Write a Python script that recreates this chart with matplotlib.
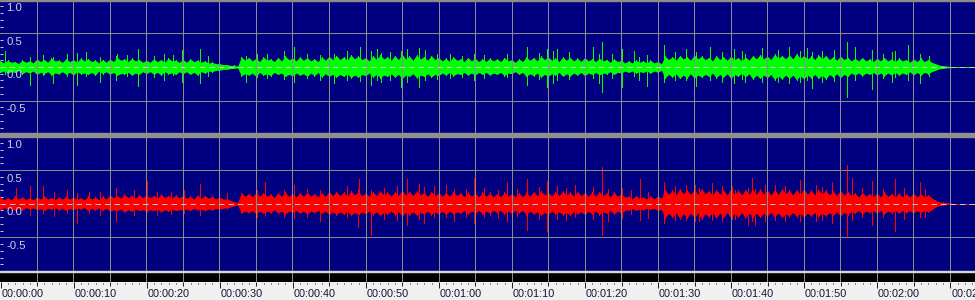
import numpy as np
import matplotlib
matplotlib.use("Agg")
import matplotlib.pyplot as plt
from matplotlib.patches import Rectangle

plt.rcParams['font.family'] = ['Liberation Sans', 'DejaVu Sans']

# ---- data (seconds / amplitude), read off the waveform view ----
# outer edge of the dense hair, one value per second (t = 0 .. 130)
green_hi = [0.09, 0.10, 0.08, 0.10, 0.09,
            0.12, 0.11, 0.13, 0.10, 0.12, 0.11, 0.13, 0.12, 0.10, 0.11,
            0.12, 0.14, 0.12, 0.13, 0.11,
            0.10, 0.12, 0.11, 0.13, 0.10,
            0.11, 0.12, 0.10, 0.09, 0.07,
            0.05, 0.035, 0.025,
            0.15, 0.14, 0.13, 0.15, 0.12, 0.14, 0.16, 0.13, 0.15, 0.14, 0.12, 0.15, 0.16,
            0.17, 0.15, 0.18, 0.16, 0.14, 0.17, 0.18, 0.15, 0.17, 0.19, 0.16, 0.18, 0.15, 0.17, 0.14, 0.13, 0.15, 0.12, 0.14, 0.13, 0.12,
            0.13, 0.12, 0.14, 0.11, 0.12,
            0.15, 0.14, 0.16, 0.15, 0.13, 0.15, 0.14, 0.13, 0.14,
            0.12, 0.13, 0.11, 0.12, 0.10,
            0.09, 0.10, 0.09, 0.10, 0.08,
            0.16, 0.15, 0.17, 0.15, 0.18, 0.16, 0.14, 0.17, 0.15, 0.16, 0.14, 0.15,
            0.17, 0.18, 0.16, 0.19, 0.17, 0.18, 0.20, 0.17, 0.16, 0.18, 0.17, 0.15, 0.16, 0.14,
            0.13, 0.14, 0.12, 0.13, 0.14, 0.12, 0.13, 0.11, 0.12, 0.13, 0.11,
            0.05, 0.02, 0.01]
green_lo = [-0.08, -0.09, -0.08, -0.10, -0.09,
            -0.11, -0.10, -0.12, -0.10, -0.11, -0.12, -0.10, -0.11, -0.12, -0.10,
            -0.11, -0.12, -0.10, -0.12, -0.11,
            -0.10, -0.11, -0.12, -0.10, -0.11,
            -0.10, -0.11, -0.12, -0.09, -0.07,
            -0.05, -0.035, -0.02,
            -0.13, -0.12, -0.14, -0.12, -0.13, -0.11, -0.14, -0.13, -0.12, -0.14, -0.13, -0.15, -0.14,
            -0.15, -0.14, -0.16, -0.15, -0.13, -0.15, -0.16, -0.14, -0.15, -0.17, -0.14, -0.16, -0.14, -0.15, -0.13, -0.12, -0.13, -0.11, -0.12, -0.12, -0.11,
            -0.12, -0.11, -0.13, -0.10, -0.11,
            -0.14, -0.13, -0.15, -0.14, -0.12, -0.14, -0.13, -0.12, -0.13,
            -0.11, -0.12, -0.10, -0.11, -0.09,
            -0.08, -0.09, -0.08, -0.09, -0.08,
            -0.16, -0.15, -0.17, -0.16, -0.17, -0.15, -0.14, -0.16, -0.15, -0.17, -0.14, -0.15,
            -0.18, -0.17, -0.16, -0.19, -0.18, -0.17, -0.19, -0.18, -0.16, -0.17, -0.18, -0.15, -0.16, -0.14,
            -0.12, -0.13, -0.11, -0.12, -0.13, -0.12, -0.12, -0.11, -0.12, -0.12, -0.10,
            -0.05, -0.02, -0.01]
red_hi = [0.10, 0.09, 0.11, 0.10, 0.09,
          0.10, 0.11, 0.09, 0.10, 0.11, 0.10, 0.09, 0.11, 0.10, 0.11,
          0.13, 0.12, 0.14, 0.12, 0.13,
          0.13, 0.12, 0.14, 0.12, 0.13,
          0.12, 0.11, 0.13, 0.12, 0.11,
          0.10, 0.07, 0.03,
          0.16, 0.15, 0.17, 0.16, 0.14, 0.16, 0.17, 0.15, 0.16, 0.17, 0.15, 0.16, 0.18,
          0.18, 0.17, 0.19, 0.18, 0.16, 0.18, 0.19, 0.17, 0.18, 0.20, 0.18, 0.19, 0.17, 0.18, 0.16, 0.17, 0.18, 0.16, 0.17, 0.16, 0.17,
          0.16, 0.15, 0.17, 0.15, 0.16,
          0.17, 0.18, 0.19, 0.17, 0.18, 0.19, 0.17, 0.18, 0.17,
          0.17, 0.18, 0.16, 0.17, 0.15,
          0.11, 0.12, 0.10, 0.11, 0.12,
          0.21, 0.20, 0.22, 0.20, 0.21, 0.22, 0.19, 0.21, 0.20, 0.22, 0.20, 0.21,
          0.21, 0.22, 0.20, 0.21, 0.22, 0.20, 0.21, 0.22, 0.20, 0.21, 0.20, 0.19, 0.20, 0.18,
          0.16, 0.17, 0.15, 0.16, 0.17, 0.15, 0.16, 0.15, 0.16, 0.15, 0.13,
          0.05, 0.02, 0.01]
red_lo = [-0.09, -0.08, -0.10, -0.09, -0.08,
          -0.09, -0.10, -0.08, -0.09, -0.10, -0.09, -0.08, -0.10, -0.09, -0.10,
          -0.11, -0.10, -0.12, -0.11, -0.10,
          -0.11, -0.10, -0.12, -0.11, -0.10,
          -0.09, -0.10, -0.09, -0.10, -0.09,
          -0.08, -0.06, -0.03,
          -0.14, -0.13, -0.15, -0.14, -0.13, -0.14, -0.15, -0.13, -0.14, -0.15, -0.13, -0.14, -0.16,
          -0.16, -0.15, -0.17, -0.16, -0.15, -0.16, -0.17, -0.15, -0.16, -0.18, -0.16, -0.17, -0.15, -0.16, -0.15, -0.16, -0.15, -0.14, -0.15, -0.14, -0.15,
          -0.14, -0.13, -0.15, -0.14, -0.13,
          -0.16, -0.15, -0.17, -0.16, -0.15, -0.16, -0.17, -0.15, -0.16,
          -0.15, -0.16, -0.14, -0.15, -0.14,
          -0.09, -0.10, -0.09, -0.08, -0.10,
          -0.21, -0.20, -0.22, -0.21, -0.20, -0.22, -0.19, -0.21, -0.20, -0.21, -0.20, -0.21,
          -0.19, -0.20, -0.18, -0.19, -0.20, -0.18, -0.19, -0.20, -0.18, -0.19, -0.18, -0.17, -0.18, -0.16,
          -0.14, -0.15, -0.13, -0.14, -0.15, -0.13, -0.14, -0.13, -0.14, -0.13, -0.12,
          -0.05, -0.02, -0.01]

# solid inner core (half width), one value per second, sits between the hair tips
green_core = [0.06, 0.07, 0.05, 0.07, 0.06,
              0.08, 0.07, 0.09, 0.07, 0.08, 0.07, 0.09, 0.08, 0.06, 0.07,
              0.08, 0.10, 0.08, 0.09, 0.07,
              0.07, 0.08, 0.07, 0.09, 0.07,
              0.07, 0.08, 0.07, 0.06, 0.05,
              0.035, 0.025, 0.015,
              0.10, 0.09, 0.08, 0.10, 0.08, 0.09, 0.11, 0.09, 0.10, 0.09, 0.08, 0.10, 0.11,
              0.11, 0.10, 0.12, 0.11, 0.09, 0.11, 0.12, 0.10, 0.11, 0.12, 0.10, 0.12, 0.10, 0.11, 0.09, 0.08, 0.10, 0.08, 0.09, 0.08, 0.08,
              0.09, 0.08, 0.09, 0.07, 0.08,
              0.10, 0.09, 0.11, 0.10, 0.08, 0.10, 0.09, 0.08, 0.09,
              0.08, 0.09, 0.07, 0.08, 0.06,
              0.06, 0.07, 0.06, 0.06, 0.05,
              0.11, 0.10, 0.12, 0.10, 0.12, 0.11, 0.09, 0.11, 0.10, 0.11, 0.09, 0.10,
              0.12, 0.12, 0.11, 0.13, 0.12, 0.12, 0.13, 0.12, 0.11, 0.12, 0.11, 0.10, 0.11, 0.09,
              0.09, 0.09, 0.08, 0.09, 0.09, 0.08, 0.09, 0.07, 0.08, 0.08, 0.07,
              0.03, 0.015, 0.005]
red_core = [0.06, 0.06, 0.07, 0.06, 0.06,
            0.07, 0.07, 0.06, 0.07, 0.07, 0.06, 0.06, 0.07, 0.06, 0.07,
            0.09, 0.08, 0.09, 0.08, 0.09,
            0.09, 0.08, 0.09, 0.08, 0.09,
            0.08, 0.07, 0.08, 0.08, 0.07,
            0.07, 0.05, 0.02,
            0.11, 0.10, 0.11, 0.11, 0.09, 0.11, 0.11, 0.10, 0.11, 0.11, 0.10, 0.11, 0.12,
            0.12, 0.11, 0.13, 0.12, 0.11, 0.12, 0.13, 0.11, 0.12, 0.13, 0.12, 0.13, 0.11, 0.12, 0.11, 0.11, 0.12, 0.10, 0.11, 0.10, 0.11,
            0.10, 0.10, 0.11, 0.10, 0.10,
            0.11, 0.12, 0.13, 0.11, 0.12, 0.13, 0.11, 0.12, 0.11,
            0.11, 0.12, 0.10, 0.11, 0.10,
            0.07, 0.08, 0.07, 0.07, 0.08,
            0.14, 0.13, 0.15, 0.14, 0.14, 0.15, 0.13, 0.14, 0.13, 0.14, 0.13, 0.14,
            0.14, 0.14, 0.13, 0.14, 0.15, 0.13, 0.14, 0.14, 0.13, 0.14, 0.13, 0.12, 0.13, 0.12,
            0.10, 0.11, 0.10, 0.10, 0.11, 0.10, 0.10, 0.10, 0.10, 0.10, 0.09,
            0.03, 0.015, 0.005]

# single-sample peaks sticking out of the core
green_spike_t = [0.7, 4.1, 5.9, 7.2, 9.1, 10.5, 11.8, 13.7, 15.8, 16.0, 17.4, 18.9,
                 21.0, 22.4, 23.7, 24.9, 27.3, 28.5, 33.6, 35.2, 36.5, 38.8, 40.2, 42.0,
                 43.8, 45.0, 45.7, 47.5, 49.3, 50.7, 51.6, 52.1, 53.4, 54.8, 55.7, 57.3,
                 58.2, 59.8, 61.6, 63.2, 64.8, 66.2,
                 69.3, 70.0, 72.1, 73.7, 74.8, 75.7, 76.2, 77.8, 80.0, 81.2, 81.9, 82.4,
                 83.7, 85.1, 86.7, 87.4, 88.5, 90.8, 92.4, 93.8, 95.3, 97.2, 98.8, 100.4,
                 101.5, 102.0, 104.3, 105.0, 106.5, 107.9, 109.5, 110.4, 111.1, 112.5,
                 114.1, 115.9, 117.0, 119.3, 120.9, 122.1, 122.5, 124.3, 125.9, 127.1]
green_spike_hi = [0.24, 0.15, 0.18, 0.15, 0.19, 0.21, 0.22, 0.15, 0.17, 0.20, 0.18, 0.27,
                  0.16, 0.20, 0.18, 0.25, 0.27, 0.17, 0.17, 0.20, 0.20, 0.23, 0.30, 0.19,
                  0.18, 0.22, 0.20, 0.23, 0.29, 0.24, 0.27, 0.21, 0.22, 0.23, 0.27, 0.28,
                  0.25, 0.20, 0.20, 0.17, 0.20, 0.18,
                  0.20, 0.18, 0.30, 0.21, 0.27, 0.24, 0.27, 0.22, 0.375, 0.30, 0.20, 0.365,
                  0.20, 0.27, 0.23, 0.15, 0.18, 0.32, 0.22, 0.27, 0.22, 0.29, 0.22, 0.27,
                  0.23, 0.20, 0.28, 0.22, 0.25, 0.30, 0.24, 0.28, 0.22, 0.24,
                  0.25, 0.365, 0.29, 0.25, 0.20, 0.22, 0.23, 0.33, 0.20, 0.16]
green_spike_lo = [-0.10, -0.27, -0.12, -0.24, -0.14, -0.26, -0.13, -0.22, -0.19, -0.12, -0.14, -0.28,
                  -0.15, -0.19, -0.12, -0.22, -0.24, -0.14, -0.22, -0.15, -0.16, -0.18, -0.22, -0.17,
                  -0.19, -0.33, -0.24, -0.20, -0.21, -0.27, -0.19, -0.22, -0.20, -0.29, -0.22, -0.29,
                  -0.20, -0.18, -0.16, -0.15, -0.19, -0.16,
                  -0.15, -0.19, -0.26, -0.18, -0.29, -0.24, -0.20, -0.18, -0.32, -0.17, -0.24, -0.365,
                  -0.17, -0.29, -0.13, -0.19, -0.28, -0.22, -0.20, -0.20, -0.28, -0.20, -0.22, -0.24,
                  -0.18, -0.23, -0.22, -0.27, -0.22, -0.24, -0.22, -0.20, -0.31, -0.22,
                  -0.21, -0.45, -0.20, -0.32, -0.17, -0.22, -0.15, -0.20, -0.24, -0.14]

red_spike_t = [2.1, 4.1, 5.9, 7.3, 9.1, 10.5, 12.1, 13.7, 15.8, 18.3, 19.9, 20.1,
               21.5, 23.3, 25.1, 27.3, 29.9, 31.1, 35.2, 36.3, 38.8, 40.2, 42.0, 43.8,
               45.0, 47.5, 48.9, 49.1, 50.7, 52.5, 54.3, 55.7, 57.3, 58.0, 59.4, 61.0,
               62.1, 63.7, 64.8, 66.2,
               67.0, 68.2, 69.3, 70.7, 72.1, 73.7, 74.8, 76.2, 77.5, 78.7, 80.0, 81.2,
               82.4, 83.2, 85.1, 86.4, 87.6, 88.7, 90.8, 92.4, 93.8, 95.1, 95.6, 97.4,
               98.8, 100.1, 100.6, 102.4, 102.9, 103.3, 104.7, 106.1, 107.4, 109.5, 110.0,
               111.6, 112.5, 113.8, 115.9, 116.6, 118.0, 119.3, 120.9, 122.5, 123.7,
               125.0, 125.9, 126.6]
red_spike_hi = [0.23, 0.26, 0.26, 0.17, 0.21, 0.16, 0.17, 0.18, 0.23, 0.20, 0.20, 0.33,
                0.18, 0.17, 0.20, 0.30, 0.16, 0.16, 0.20, 0.32, 0.21, 0.28, 0.22, 0.20,
                0.40, 0.26, 0.22, 0.37, 0.20, 0.24, 0.27, 0.36, 0.30, 0.25, 0.26, 0.28,
                0.22, 0.22, 0.38, 0.24,
                0.18, 0.20, 0.32, 0.22, 0.36, 0.25, 0.33, 0.26, 0.24, 0.28, 0.33, 0.25,
                0.54, 0.22, 0.24, 0.21, 0.36, 0.18, 0.32, 0.26, 0.28, 0.28, 0.24, 0.31,
                0.26, 0.26, 0.20, 0.24, 0.38, 0.22, 0.28, 0.28, 0.26, 0.35, 0.22,
                0.28, 0.25, 0.32, 0.58, 0.38, 0.24, 0.33, 0.22, 0.36, 0.24,
                0.28, 0.32, 0.22]
red_spike_lo = [-0.12, -0.16, -0.13, -0.18, -0.14, -0.29, -0.14, -0.16, -0.26, -0.16, -0.23, -0.12,
                -0.16, -0.15, -0.14, -0.16, -0.21, -0.08, -0.20, -0.16, -0.20, -0.21, -0.19, -0.26,
                -0.34, -0.20, -0.34, -0.15, -0.46, -0.22, -0.24, -0.31, -0.22, -0.29, -0.20, -0.20,
                -0.26, -0.20, -0.29, -0.20,
                -0.16, -0.21, -0.26, -0.18, -0.39, -0.22, -0.41, -0.22, -0.24, -0.20, -0.34, -0.22,
                -0.47, -0.25, -0.21, -0.15, -0.24, -0.21, -0.29, -0.24, -0.24, -0.25, -0.26, -0.24,
                -0.25, -0.22, -0.23, -0.31, -0.26, -0.31, -0.25, -0.24, -0.26, -0.26, -0.31,
                -0.25, -0.24, -0.29, -0.49, -0.24, -0.20, -0.31, -0.20, -0.41, -0.22,
                -0.36, -0.20, -0.19]

amp_labels = [1.0, 0.5, 0.0, -0.5]
time_labels = ["00:00:00", "00:00:10", "00:00:20", "00:00:30", "00:00:40", "00:00:50",
               "00:01:00", "00:01:10", "00:01:20", "00:01:30", "00:01:40", "00:01:50",
               "00:02:00", "00:02:10"]

# ---- layout (pixel rows of the 975x300 window) ----
H = 300.0
T0, T1 = -0.041, 133.43
BG = '#000080'
PX = 0.72  # one pixel in points at 100 dpi

fig = plt.figure(figsize=(9.75, 3.0), dpi=100)


def band(top, bot):
    return fig.add_axes([0, 1 - bot / H, 1, (bot - top) / H])


def channel(ax, hi, lo, core, st, sh, sl, col, grid_col, ylim):
    ax.set_facecolor(BG)
    ax.set_xlim(T0, T1)
    ax.set_ylim(*ylim)
    for s in ax.spines.values():
        s.set_visible(False)
    ax.axhline(0, color=col, lw=PX, zorder=1)
    # hair tips on whole seconds, solid core half a second later -> ragged edge
    n = len(hi)
    tt = np.empty(2 * n)
    tt[0::2] = np.arange(n)
    tt[1::2] = np.arange(n) + 0.5
    top = np.empty(2 * n)
    top[0::2] = hi
    top[1::2] = core
    bot = np.empty(2 * n)
    bot[0::2] = lo
    bot[1::2] = -np.asarray(core)
    ax.fill_between(tt, bot, top, color=col, lw=0, zorder=2)
    # hairs at the envelope tips plus the single peaks, drawn crisp
    ax.vlines(np.arange(n), lo, hi, colors=col, lw=0.6, antialiased=False, zorder=2)
    ax.vlines(st, sl, sh, colors=col, lw=0.6, antialiased=False, zorder=2)
    for t in range(5, 135, 5):
        ax.axvline(t, color=grid_col, lw=PX, snap=True, zorder=3)
    for v in (0.5, -0.5):
        ax.axhline(v, color=grid_col, lw=PX, snap=True, zorder=3)
    ax.axhline(0, color='#c8c8c8', lw=PX, ls=(0, (5.5, 4)), zorder=4)
    ax.set_xticks([])
    ax.set_yticks(np.round(np.arange(-0.9, 1.0, 0.1), 1))
    ax.tick_params(axis='y', direction='in', length=2.2, width=PX,
                   color='#c8c8d8', labelleft=False)
    for v in amp_labels:
        ax.annotate(f"{v:.1f}", xy=(0, v), xycoords=('axes fraction', 'data'),
                    xytext=(6.5, -3.5), textcoords='offset pixels', ha='left', va='top',
                    fontsize=8.2, color='#d0d0e0', annotation_clip=False, zorder=5)


ax_l = band(0, 133.3)
channel(ax_l, green_hi, green_lo, green_core, green_spike_t, green_spike_hi, green_spike_lo,
        '#00ff00', '#8c8c8c', (-0.984, 0.994))
fig.patches.append(Rectangle((0, 1 - 1.0 / H), 1, 1.0 / H, transform=fig.transFigure,
                             color='#8c8c8c', zorder=10))

# grey bar between the two channels
fig.patches.append(Rectangle((0, 1 - 137.5 / H), 1, 4.2 / H, transform=fig.transFigure,
                             color='#8f8f8f', zorder=10))

ax_r = band(137.5, 271.0)
channel(ax_r, red_hi, red_lo, red_core, red_spike_t, red_spike_hi, red_spike_lo,
        '#ff0000', '#878c80', (-0.997, 0.982))

# thin light line + black strip under the waveform
fig.patches.append(Rectangle((0, 1 - 272.3 / H), 1, 1.3 / H, transform=fig.transFigure,
                             color='#d8d8d8', zorder=10))
ax_b = band(272.3, 281.7)
ax_b.set_facecolor('black')
ax_b.set_xlim(T0, T1)
ax_b.set_ylim(0, 1)
for s in ax_b.spines.values():
    s.set_visible(False)
ax_b.set_xticks([])
ax_b.set_yticks([])
for t in range(5, 135, 5):
    ax_b.axvline(t, color='#8c8c8c', lw=PX, snap=True)

# time ruler
ax_t = band(281.7, 300)
ax_t.set_facecolor('#f0f0f0')
ax_t.set_xlim(T0, T1)
ax_t.set_ylim(18.3, 0)
for s in ax_t.spines.values():
    s.set_visible(False)
ax_t.set_xticks([])
ax_t.set_yticks([])
for t in range(0, 134):
    if t % 10 == 0:
        y0, y1 = 0, 6.6
    elif t % 5 == 0:
        y0, y1 = 0, 4.3
    else:
        y0, y1 = 1.0, 2.6
    ax_t.vlines(t + 0.04, y0, y1, colors='#202030', lw=PX, snap=True)
for i, lab in enumerate(time_labels):
    ax_t.annotate(lab, xy=(i * 10, 7.4), xycoords='data', xytext=(1.2, 0),
                  textcoords='offset pixels', ha='left', va='top', fontsize=7.8,
                  color='#141432', annotation_clip=False)

fig.savefig("out.png", dpi=100, facecolor='#f0f0f0')
